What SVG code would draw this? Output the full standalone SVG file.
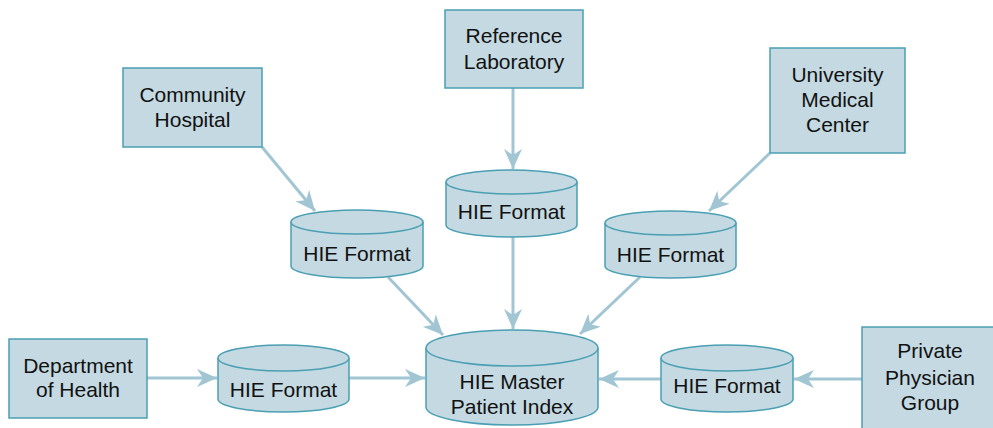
<svg xmlns="http://www.w3.org/2000/svg" width="993" height="428" viewBox="0 0 993 428">
<style>
.box{fill:#c4d9e2;stroke:#4a9fb3;stroke-width:1.5}
.cyl{fill:#c4d9e2;stroke:#4a9fb3;stroke-width:1.5}
.t{font-family:"Liberation Sans",Arial,sans-serif;font-size:21px;fill:#111;text-anchor:middle}
.c{stroke:#a2c5d3;stroke-width:3;fill:none;marker-end:url(#ah)}
</style>
<defs>
<marker id="ah" markerUnits="userSpaceOnUse" markerWidth="24" markerHeight="20" refX="20" refY="9" orient="auto" viewBox="0 0 24 20">
<path d="M0,0 L20,9 L0,18 L6,9 Z" fill="#a2c5d3"/>
</marker>
</defs>
<g id="connectors">
<line class="c" x1="262" y1="147" x2="315" y2="211"/>
<line class="c" x1="513" y1="88" x2="513" y2="169"/>
<line class="c" x1="770" y1="153" x2="709" y2="211"/>
<line class="c" x1="147" y1="378" x2="217" y2="378"/>
<line class="c" x1="862" y1="379" x2="794" y2="379"/>
<line class="c" x1="388" y1="277" x2="443" y2="335"/>
<line class="c" x1="513" y1="237" x2="513" y2="329"/>
<line class="c" x1="640" y1="277" x2="580" y2="334"/>
<line class="c" x1="349" y1="378" x2="425" y2="378"/>
<line class="c" x1="661" y1="379" x2="599" y2="379"/>
</g>
<g id="community-hospital">
<rect class="box" x="123" y="68" width="139" height="79"/>
<text class="t" x="192.500" y="102">Community</text>
<text class="t" x="192.500" y="127">Hospital</text>
</g>
<g id="reference-laboratory">
<rect class="box" x="445" y="10" width="138" height="78"/>
<text class="t" x="514" y="43">Reference</text>
<text class="t" x="514" y="69">Laboratory</text>
</g>
<g id="university-medical-center">
<rect class="box" x="770" y="48" width="135" height="105"/>
<text class="t" x="837.500" y="82">University</text>
<text class="t" x="837.500" y="107">Medical</text>
<text class="t" x="837.500" y="132">Center</text>
</g>
<g id="department-of-health">
<rect class="box" x="9" y="339" width="138" height="79"/>
<text class="t" x="78" y="373">Department</text>
<text class="t" x="78" y="397">of Health</text>
</g>
<g id="private-physician-group">
<rect class="box" x="862" y="327" width="140" height="110"/>
<text class="t" x="930" y="358">Private</text>
<text class="t" x="930" y="385">Physician</text>
<text class="t" x="930" y="410">Group</text>
</g>
<g id="hie-format-1">
<path class="cyl" d="M291,222 A66,12 0 0 1 423,222 L423,266 A66,12 0 0 1 291,266 Z"/>
<path class="cyl" d="M291,222 A66,12 0 0 0 423,222"/>
<text class="t" x="357" y="261">HIE Format</text>
</g>
<g id="hie-format-2">
<path class="cyl" d="M446,182 A65.500,12 0 0 1 577,182 L577,225 A65.500,12 0 0 1 446,225 Z"/>
<path class="cyl" d="M446,182 A65.500,12 0 0 0 577,182"/>
<text class="t" x="511.500" y="219">HIE Format</text>
</g>
<g id="hie-format-3">
<path class="cyl" d="M605,223 A65.500,12 0 0 1 736,223 L736,266 A65.500,12 0 0 1 605,266 Z"/>
<path class="cyl" d="M605,223 A65.500,12 0 0 0 736,223"/>
<text class="t" x="670.500" y="262">HIE Format</text>
</g>
<g id="hie-format-4">
<path class="cyl" d="M218,358 A65.500,13 0 0 1 349,358 L349,399 A65.500,13 0 0 1 218,399 Z"/>
<path class="cyl" d="M218,358 A65.500,13 0 0 0 349,358"/>
<text class="t" x="283.500" y="397">HIE Format</text>
</g>
<g id="hie-format-5">
<path class="cyl" d="M661,358 A66,13 0 0 1 793,358 L793,399 A66,13 0 0 1 661,399 Z"/>
<path class="cyl" d="M661,358 A66,13 0 0 0 793,358"/>
<text class="t" x="727" y="393">HIE Format</text>
</g>
<g id="hie-master-patient-index">
<path class="cyl" d="M426,348 A86,18 0 0 1 598,348 L598,407 A86,18 0 0 1 426,407 Z"/>
<path class="cyl" d="M426,348 A86,18 0 0 0 598,348"/>
<text class="t" x="512" y="389">HIE Master</text>
<text class="t" x="512" y="414">Patient Index</text>
</g>
</svg>
